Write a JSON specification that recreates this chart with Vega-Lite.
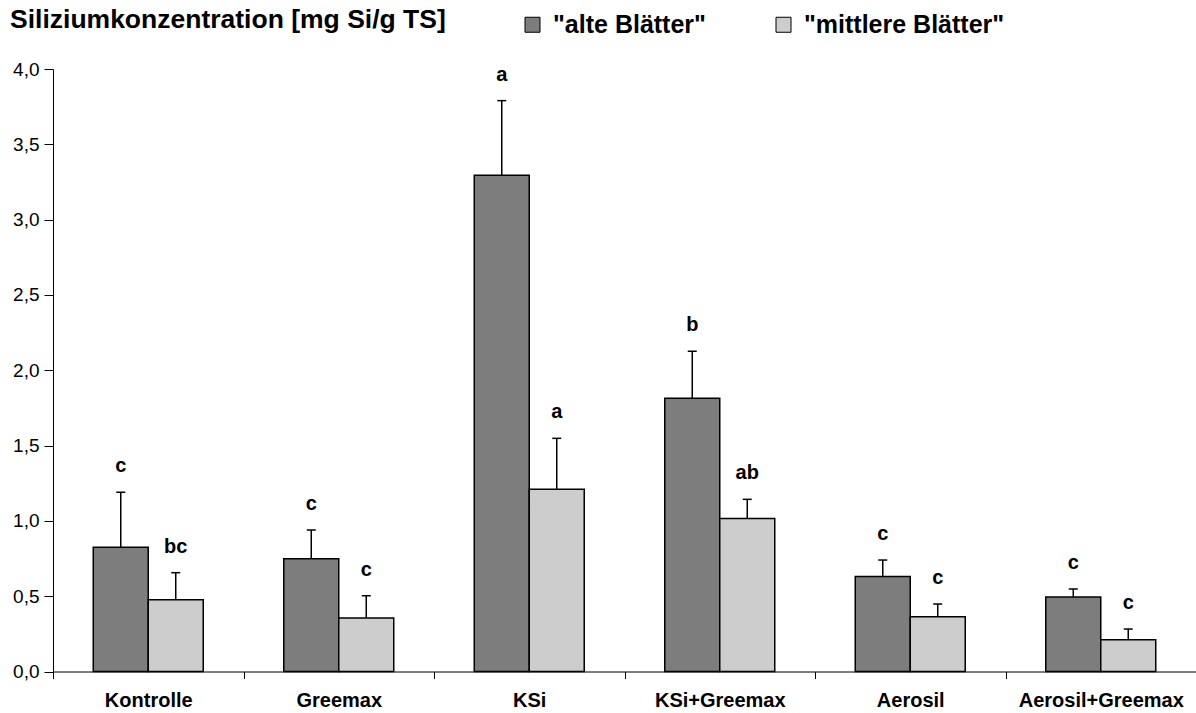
{
  "$schema": "https://vega.github.io/schema/vega-lite/v6.json",
  "width": 1143,
  "height": 602.5,
  "autosize": {"type": "none"},
  "padding": {"left": 53, "top": 69, "right": 0, "bottom": 41.5},
  "background": "white",
  "title": {
    "text": "Siliziumkonzentration [mg Si/g TS]",
    "anchor": "start",
    "frame": "group",
    "dx": -43,
    "offset": 0,
    "dy": 42,
    "baseline": "alphabetic",
    "fontSize": 26.5,
    "fontWeight": "bold",
    "font": "Liberation Sans",
    "color": "black"
  },
  "data": {
    "values": [
      {"gruppe": "Kontrolle", "serie": "\"alte Blätter\"", "wert": 0.825, "fehler": 1.19, "buchstabe": "c"},
      {"gruppe": "Kontrolle", "serie": "\"mittlere Blätter\"", "wert": 0.477, "fehler": 0.656, "buchstabe": "bc"},
      {"gruppe": "Greemax", "serie": "\"alte Blätter\"", "wert": 0.749, "fehler": 0.94, "buchstabe": "c"},
      {"gruppe": "Greemax", "serie": "\"mittlere Blätter\"", "wert": 0.355, "fehler": 0.503, "buchstabe": "c"},
      {"gruppe": "KSi", "serie": "\"alte Blätter\"", "wert": 3.295, "fehler": 3.79, "buchstabe": "a"},
      {"gruppe": "KSi", "serie": "\"mittlere Blätter\"", "wert": 1.21, "fehler": 1.548, "buchstabe": "a"},
      {"gruppe": "KSi+Greemax", "serie": "\"alte Blätter\"", "wert": 1.814, "fehler": 2.126, "buchstabe": "b"},
      {"gruppe": "KSi+Greemax", "serie": "\"mittlere Blätter\"", "wert": 1.015, "fehler": 1.143, "buchstabe": "ab"},
      {"gruppe": "Aerosil", "serie": "\"alte Blätter\"", "wert": 0.63, "fehler": 0.74, "buchstabe": "c"},
      {"gruppe": "Aerosil", "serie": "\"mittlere Blätter\"", "wert": 0.364, "fehler": 0.448, "buchstabe": "c"},
      {"gruppe": "Aerosil+Greemax", "serie": "\"alte Blätter\"", "wert": 0.495, "fehler": 0.548, "buchstabe": "c"},
      {"gruppe": "Aerosil+Greemax", "serie": "\"mittlere Blätter\"", "wert": 0.211, "fehler": 0.282, "buchstabe": "c"}
    ]
  },
  "encoding": {
    "x": {
      "field": "gruppe",
      "type": "nominal",
      "sort": ["Kontrolle", "Greemax", "KSi", "KSi+Greemax", "Aerosil", "Aerosil+Greemax"],
      "scale": {"paddingInner": 0, "paddingOuter": 0},
      "axis": {
        "title": null,
        "labelAngle": 0,
        "labelFontSize": 20,
        "labelFontWeight": "bold",
        "labelColor": "black",
        "labelFont": "Liberation Sans",
        "tickBand": "extent",
        "tickSize": 7,
        "tickColor": "black",
        "domainColor": "black",
        "labelPadding": 12
      }
    },
    "xOffset": {
      "field": "serie",
      "type": "nominal",
      "sort": ["\"alte Blätter\"", "\"mittlere Blätter\""],
      "scale": {"paddingInner": 0, "paddingOuter": 0.732}
    }
  },
  "layer": [
    {
      "mark": {"type": "bar", "stroke": "black", "strokeWidth": 1.5},
      "encoding": {
        "y": {
          "field": "wert",
          "type": "quantitative",
          "title": null,
          "scale": {"domain": [0, 4], "nice": false},
          "axis": {
            "values": [0, 0.5, 1, 1.5, 2, 2.5, 3, 3.5, 4],
            "labelExpr": "replace(format(datum.value, '.1f'), '.', ',')",
            "labelFontSize": 19,
            "labelColor": "black",
            "labelFont": "Liberation Sans",
            "tickColor": "black",
            "domainColor": "black",
            "tickSize": 9,
            "labelPadding": 5,
            "grid": false
          }
        },
        "fill": {
          "field": "serie",
          "type": "nominal",
          "sort": ["\"alte Blätter\"", "\"mittlere Blätter\""],
          "scale": {"range": ["#7d7d7d", "#cdcdcd"]},
          "legend": {
            "title": null,
            "orient": "none",
            "direction": "horizontal",
            "legendX": 467,
            "legendY": -57,
            "symbolType": "square",
            "symbolSize": 225,
            "symbolStrokeColor": "black",
            "symbolStrokeWidth": 1,
            "symbolOpacity": 1,
            "labelFontSize": 25,
            "labelFontWeight": "bold",
            "labelFont": "Liberation Sans",
            "labelColor": "black",
            "labelOffset": 8,
            "columnPadding": 65,
            "labelLimit": 400
          }
        }
      }
    },
    {
      "mark": {"type": "rule", "color": "black", "strokeWidth": 1.5},
      "encoding": {
        "y": {"field": "wert", "type": "quantitative", "title": null},
        "y2": {"field": "fehler"}
      }
    },
    {
      "mark": {"type": "tick", "color": "black", "thickness": 1.5, "size": 9, "opacity": 1},
      "encoding": {
        "y": {"field": "fehler", "type": "quantitative", "title": null}
      }
    },
    {
      "mark": {"type": "text", "fontSize": 20, "fontWeight": "bold", "dy": -26, "baseline": "middle", "font": "Liberation Sans", "color": "black"},
      "encoding": {
        "y": {"field": "fehler", "type": "quantitative", "title": null},
        "text": {"field": "buchstabe"}
      }
    }
  ],
  "config": {"view": {"stroke": null}, "font": "Liberation Sans"}
}
